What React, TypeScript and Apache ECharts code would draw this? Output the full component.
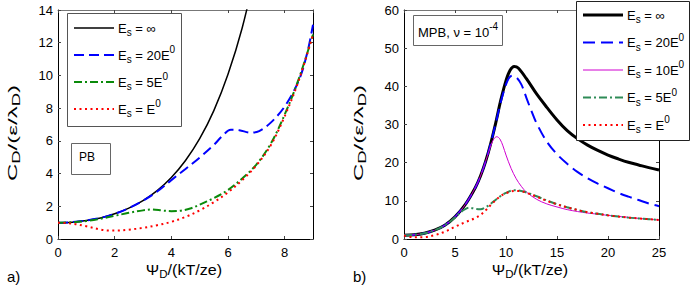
import React, { useEffect, useRef } from 'react';
import * as echarts from 'echarts';

const FONT = '"Liberation Sans", Arial, Helvetica, sans-serif';

// ---------- Panel a) PB ----------
const aXTicks = { min: 0, max: 9, interval: 2 };
const aYTicks = { min: 0, max: 14, interval: 2 };
const aInf = [[0, 1.0], [0.5, 1.03], [1, 1.13], [1.5, 1.29], [2, 1.54], [2.5, 1.89], [3, 2.35], [3.5, 2.96], [4, 3.76], [4.5, 4.8], [5, 6.13], [5.5, 7.85], [6, 10.07], [6.5, 12.9], [7, 16.6]];
const a20 = [[0, 1.0], [0.5, 1.03], [1, 1.13], [1.5, 1.29], [2, 1.54], [2.5, 1.89], [3, 2.34], [3.5, 2.9], [4, 3.6], [4.5, 4.28], [5, 4.98], [5.5, 5.75], [5.8, 6.3], [6.1, 6.68], [6.4, 6.65], [6.8, 6.5], [7.1, 6.6], [7.5, 7.1], [8, 8.1], [8.5, 9.7], [8.8, 11.4], [9, 13.1]];
const a5 = [[0, 1.0], [0.5, 1.02], [1, 1.1], [1.5, 1.24], [2, 1.42], [2.5, 1.6], [3, 1.75], [3.3, 1.8], [3.7, 1.74], [4, 1.7], [4.3, 1.72], [4.7, 1.88], [5, 2.1], [5.5, 2.5], [6, 3.0], [6.5, 3.7], [7, 4.55], [7.5, 5.8], [8, 7.6], [8.5, 9.8], [9, 12.5]];
const a1 = [[0, 1.0], [0.5, 0.94], [1, 0.78], [1.5, 0.58], [1.8, 0.52], [2.1, 0.52], [2.5, 0.57], [3, 0.68], [3.5, 0.84], [4, 1.05], [4.5, 1.35], [5, 1.75], [5.5, 2.25], [6, 2.85], [6.5, 3.6], [7, 4.5], [7.5, 5.7], [8, 7.5], [8.5, 9.7], [9, 12.5]];

// ---------- Panel b) MPB ----------
const bXTicks = { min: 0, max: 25, interval: 5 };
const bYTicks = { min: 0, max: 60, interval: 10 };
const bInf = [[0, 1.0], [1, 1.1], [2, 1.5], [3, 2.3], [4, 3.6], [5, 5.8], [6, 9.0], [7, 13.5], [7.5, 16.5], [8, 20.3], [8.5, 25], [9, 30.5], [9.5, 36.5], [10, 41.5], [10.4, 44.2], [10.8, 45.2], [11.2, 44.8], [12, 42], [13, 38], [14, 34.5], [15, 31.2], [16, 28.4], [17, 26.3], [18, 24.6], [19, 23.2], [20, 22], [21, 21], [22, 20.1], [23, 19.4], [24, 18.7], [25, 18.1]];
const b20 = [[0, 1.0], [1, 1.1], [2, 1.5], [3, 2.3], [4, 3.6], [5, 5.8], [6, 9.0], [7, 13.5], [7.5, 16.5], [8, 20.3], [8.5, 25], [9, 30.4], [9.5, 36], [10, 40.5], [10.3, 42.2], [10.6, 42.8], [11, 42.4], [11.5, 40.5], [12, 37], [12.5, 33.5], [13, 30.3], [14, 25.5], [15, 22.2], [16, 19.7], [17, 17.6], [18, 15.9], [19, 14.5], [20, 13.3], [21, 12.1], [22, 11.1], [23, 10.2], [24, 9.3], [25, 8.6]];
const b10 = [[0, 1.0], [1, 1.1], [2, 1.5], [3, 2.3], [4, 3.6], [5, 5.8], [6, 9.0], [7, 13.5], [7.5, 16.5], [8, 20.3], [8.5, 24.4], [8.8, 26.2], [9.1, 26.8], [9.4, 26.2], [9.7, 24.4], [10, 22], [10.5, 18.5], [11, 15.8], [11.5, 13.8], [12, 12.3], [13, 10.4], [14, 9.2], [15, 8.4], [16, 7.7], [17, 7.2], [18, 6.8], [19, 6.5], [20, 6.2], [21, 5.9], [22, 5.7], [23, 5.4], [24, 5.2], [25, 5.0]];
const b5 = [[0, 1.0], [1, 1.1], [2, 1.5], [3, 2.3], [4, 3.6], [5, 5.6], [5.5, 6.9], [6, 7.8], [6.4, 8.2], [7, 7.9], [7.5, 7.8], [8, 8.3], [8.5, 9.2], [9, 10.3], [9.5, 11.3], [10, 12.1], [10.8, 12.8], [11.5, 12.6], [12, 12.2], [13, 11.2], [14, 10.1], [15, 9.1], [16, 8.3], [17, 7.6], [18, 7.0], [19, 6.6], [20, 6.2], [21, 5.9], [22, 5.6], [23, 5.4], [24, 5.2], [25, 5.0]];
const b1 = [[0, 0.9], [1, 0.45], [2, 0.5], [3, 1.0], [4, 1.9], [5, 3.2], [6, 4.4], [7, 5.5], [7.5, 6.3], [8, 7.5], [8.5, 8.9], [9, 10.2], [9.5, 11.3], [10, 12.0], [10.8, 12.6], [11.5, 12.5], [12, 12.1], [13, 11.1], [14, 10.0], [15, 9.1], [16, 8.3], [17, 7.6], [18, 7.0], [19, 6.6], [20, 6.2], [21, 5.9], [22, 5.6], [23, 5.4], [24, 5.2], [25, 5.0]];

const legendLabels: Record<string, string> = {
  inf: '{e|E}{s|s}{t| = ∞}',
  '20': '{e|E}{s|s}{t| = 20E}{p|0}',
  '10': '{e|E}{s|s}{t| = 10E}{p|0}',
  '5': '{e|E}{s|s}{t| = 5E}{p|0}',
  '1': '{e|E}{s|s}{t| = E}{p|0}',
};

const DASH = [10, 5];
const DASH_B = [12, 6];
const DASHDOT = [8, 3, 2, 3];
const DOT = [2, 3.5];

// series styles: [key, data, color, width, dash]
const seriesA: [string, number[][], string, number, any][] = [
  ['inf', aInf, '#000000', 1.5, null],
  ['20', a20, '#0000ff', 2, DASH],
  ['5', a5, '#0a8a0a', 2, DASHDOT],
  ['1', a1, '#ff0000', 2, DOT],
];
const seriesB: [string, number[][], string, number, any][] = [
  ['inf', bInf, '#000000', 3, null],
  ['20', b20, '#0000ff', 2, DASH_B],
  ['10', b10, '#d000d0', 1, null],
  ['5', b5, '#2e8b57', 2, DASHDOT],
  ['1', b1, '#ff0000', 2, DOT],
];

const richText = (size: number, lh: number) => ({
  e: { fontSize: size, lineHeight: lh, fontFamily: FONT, color: '#000' },
  t: { fontSize: size, lineHeight: lh, fontFamily: FONT, color: '#000' },
  n: { fontSize: size, lineHeight: lh, fontFamily: FONT, color: '#000' },
  s: { fontSize: 10, verticalAlign: 'bottom', height: 13, fontFamily: FONT, color: '#000' },
  p: { fontSize: 10, verticalAlign: 'top', height: 11, fontFamily: FONT, color: '#000' },
});

type LegendBox = { x: number; y: number; w: number; h: number; row0: number; step: number; border: string };

function legendGraphic(items: typeof seriesA, box: LegendBox) {
  const els: any[] = [
    { type: 'rect', z: 20, shape: { x: box.x + 0.5, y: box.y + 0.5, width: box.w, height: box.h }, style: { fill: '#fff', stroke: box.border, lineWidth: 1 } },
  ];
  items.forEach(([key, , color, width, dash], i) => {
    const y = box.row0 + i * box.step;
    els.push({
      type: 'line', z: 21,
      shape: { x1: box.x + 7, y1: y, x2: box.x + 47, y2: y },
      style: { stroke: color, lineWidth: width, lineDash: dash || undefined, lineCap: 'butt' },
    });
    els.push({
      type: 'text', z: 21, x: box.x + 51, y,
      style: { text: legendLabels[key], rich: richText(13, 22), verticalAlign: 'middle', align: 'left', fill: '#000' },
    });
  });
  return els;
}

export default function App() {
  const ref = useRef<HTMLDivElement>(null);
  useEffect(() => {
    if (!ref.current) return;
    const chart = echarts.init(ref.current, undefined, { renderer: 'svg' });

    const tick = { show: true, inside: true, length: 3, lineStyle: { color: '#444', width: 1 } };
    const label = { color: '#000', fontSize: 13, fontFamily: FONT };
    const mkX = (gi: number, r: any, pos: 'bottom' | 'top') => ({
      type: 'value', gridIndex: gi, position: pos, min: r.min, max: r.max, interval: r.interval,
      axisLine: { show: true, onZero: false, lineStyle: { color: pos === 'top' ? '#777' : '#000', width: 1 } },
      axisTick: tick, splitLine: { show: false },
      axisLabel: pos === 'bottom' ? { ...label, margin: 7, showMaxLabel: gi === 0 ? false : true } : { show: false },
    });
    const mkY = (gi: number, r: any, pos: 'left' | 'right') => ({
      type: 'value', gridIndex: gi, position: pos, min: r.min, max: r.max, interval: r.interval,
      axisLine: { show: true, onZero: false, lineStyle: { color: '#000', width: 1 } },
      axisTick: tick, splitLine: { show: false },
      axisLabel: pos === 'left' ? { ...label, margin: 5 } : { show: false },
    });

    const mkSeries = (prefix: string, list: typeof seriesA, xi: number) =>
      list.map(([key, data, color, width, dash]) => ({
        type: 'line', name: `${prefix} Es=${key}`, data, xAxisIndex: xi, yAxisIndex: xi, smooth: 0.35,
        symbol: 'none', showSymbol: false,
        lineStyle: { color, width, type: dash || 'solid', cap: 'butt' }, itemStyle: { color },
      }));

    const axisRich = richText(13, 22);

    chart.setOption({
      animation: false,
      textStyle: { fontFamily: FONT },
      grid: [
        { left: 58, top: 10, width: 255, height: 229 },
        { left: 404, top: 10, width: 255, height: 229 },
      ],
      xAxis: [mkX(0, aXTicks, 'bottom'), mkX(0, aXTicks, 'top'), mkX(1, bXTicks, 'bottom'), mkX(1, bXTicks, 'top')],
      yAxis: [mkY(0, aYTicks, 'left'), mkY(0, aYTicks, 'right'), mkY(1, bYTicks, 'left'), mkY(1, bYTicks, 'right')],
      series: [...mkSeries('a', seriesA, 0), ...mkSeries('b', seriesB, 2)],
      graphic: [
        ...legendGraphic(seriesA, { x: 67, y: 13, w: 114, h: 113, row0: 28, step: 27, border: '#555' }),
        ...legendGraphic(seriesB, { x: 576, y: 1, w: 113, h: 139, row0: 15, step: 27.5, border: '#222' }),
        { type: 'rect', shape: { x: 71.5, y: 143.5, width: 39, height: 31 }, style: { fill: '#fff', stroke: '#666', lineWidth: 1 }, z: 10 },
        { type: 'text', x: 79, y: 157, z: 11, style: { text: 'PB', fontSize: 12, fontFamily: FONT, fill: '#000', verticalAlign: 'middle' } },
        { type: 'rect', shape: { x: 413.5, y: 15.5, width: 89, height: 30 }, style: { fill: '#fff', stroke: '#666', lineWidth: 1 }, z: 10 },
        { type: 'text', x: 418, y: 32, z: 11, style: { text: '{n|MPB, ν = 10}{p|-4}', rich: richText(13, 22), verticalAlign: 'middle', fill: '#000' } },
        { type: 'text', x: 12.5, y: 133, rotation: Math.PI / 2, scaleX: 1.85, style: { text: '{n|C}{s|D}{n|/(ε/λ}{s|D}{n|)}', rich: axisRich, align: 'center', verticalAlign: 'middle', fill: '#000' } },
        { type: 'text', x: 358.5, y: 133, rotation: Math.PI / 2, scaleX: 1.85, style: { text: '{n|C}{s|D}{n|/(ε/λ}{s|D}{n|)}', rich: axisRich, align: 'center', verticalAlign: 'middle', fill: '#000' } },
        { type: 'text', x: 184, y: 270, scaleX: 1.15, style: { text: '{n|Ψ}{s|D}{n|/(kT/ze)}', rich: richText(14, 22), align: 'center', verticalAlign: 'middle', fill: '#000' } },
        { type: 'text', x: 530, y: 270, scaleX: 1.15, style: { text: '{n|Ψ}{s|D}{n|/(kT/ze)}', rich: richText(14, 22), align: 'center', verticalAlign: 'middle', fill: '#000' } },
        { type: 'text', x: 7, y: 276, style: { text: 'a)', fontSize: 15, fontFamily: FONT, fill: '#000', verticalAlign: 'middle' } },
        { type: 'text', x: 353, y: 276, style: { text: 'b)', fontSize: 15, fontFamily: FONT, fill: '#000', verticalAlign: 'middle' } },
      ],
    });
    return () => chart.dispose();
  }, []);
  return <div ref={ref} style={{ width: 692, height: 289, position: 'absolute', left: 0, top: 0, background: '#fff' }} />;
}
